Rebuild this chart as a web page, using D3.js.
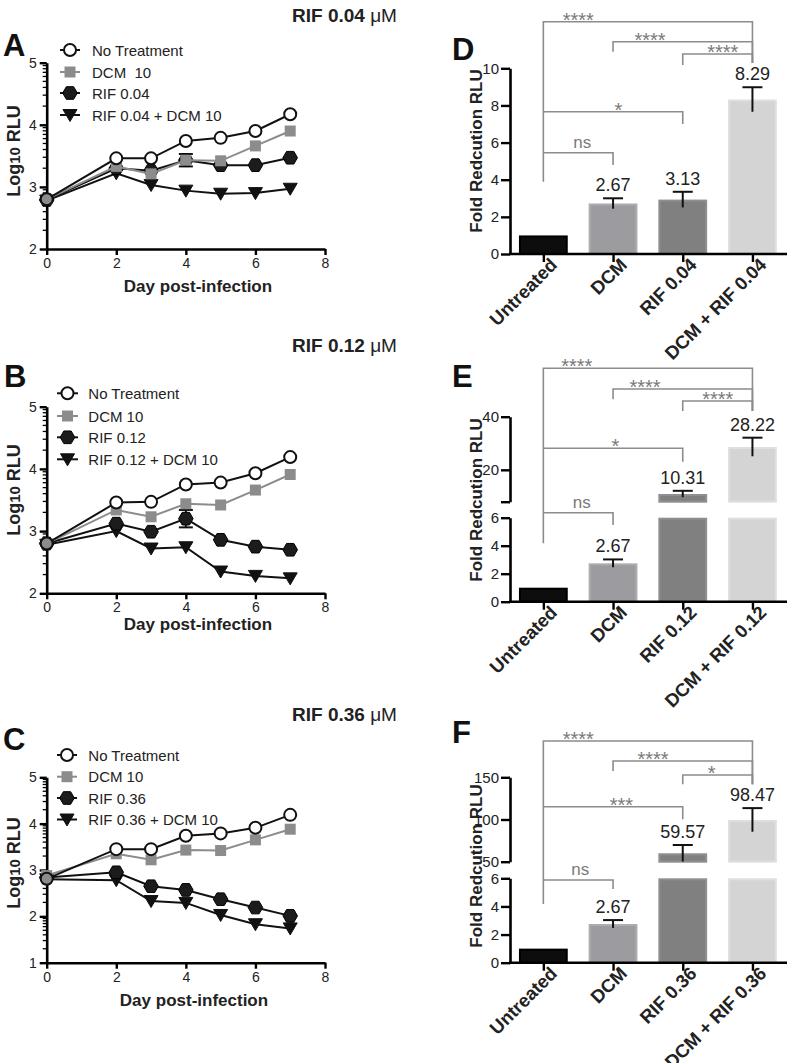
<!DOCTYPE html>
<html><head><meta charset="utf-8">
<script src="https://cdn.jsdelivr.net/npm/d3@7"></script>
<style>
body{margin:0;background:#fff}
svg{display:block}
text{font-family: Arial, "Liberation Sans", Helvetica, sans-serif;}
</style></head><body>
<svg id="chart" width="787" height="1063"></svg>
<script>
// ---------------- DATA ----------------
const days = [0, 2, 3, 4, 5, 6, 7];
const dayTicks = [0, 2, 4, 6, 8];

const titleA = "RIF 0.04 ";
const legendA = ["No Treatment", "DCM  10", "RIF 0.04", "RIF 0.04 + DCM 10"];
const noTreatmentA = [2.80, 3.46, 3.46, 3.74, 3.79, 3.90, 4.17];
const dcmA = [2.80, 3.33, 3.21, 3.43, 3.42, 3.66, 3.90];
const rifA = [2.79, 3.30, 3.26, 3.43, 3.35, 3.35, 3.47];
const rifErrA = [0, 0, 0, 0.10, 0, 0, 0];
const comboA = [2.78, 3.22, 3.03, 2.94, 2.89, 2.90, 2.97];
const yTicksA = [2, 3, 4, 5];

const titleB = "RIF 0.12 ";
const legendB = ["No Treatment", "DCM 10", "RIF 0.12", "RIF 0.12 + DCM 10"];
const noTreatmentB = [2.80, 3.46, 3.47, 3.75, 3.78, 3.93, 4.19];
const dcmB = [2.80, 3.34, 3.23, 3.44, 3.42, 3.66, 3.91];
const rifB = [2.80, 3.12, 2.99, 3.20, 2.86, 2.75, 2.70];
const rifErrB = [0, 0, 0, 0.14, 0, 0, 0];
const comboB = [2.78, 3.00, 2.72, 2.74, 2.35, 2.28, 2.24];
const yTicksB = [2, 3, 4, 5];

const titleC = "RIF 0.36 ";
const legendC = ["No Treatment", "DCM 10", "RIF 0.36", "RIF 0.36 + DCM 10"];
const noTreatmentC = [2.81, 3.45, 3.45, 3.74, 3.79, 3.91, 4.19];
const dcmC = [2.88, 3.35, 3.22, 3.43, 3.42, 3.65, 3.88];
const rifC = [2.84, 2.95, 2.65, 2.57, 2.37, 2.19, 2.01];
const rifErrC = [0, 0, 0, 0, 0, 0, 0];
const comboC = [2.80, 2.78, 2.33, 2.29, 2.03, 1.83, 1.74];
const yTicksC = [1, 2, 3, 4, 5];

const comparisons = [[0, 3], [1, 3], [2, 3], [0, 2], [0, 1]];

const barCatsD = ["Untreated", "DCM", "RIF 0.04", "DCM + RIF 0.04"];
const barMeansD = [1.0, 2.72, 2.93, 8.32];
const barErrD = [0, 0.28, 0.42, 0.66];
const barLabelsD = ["", "2.67", "3.13", "8.29"];
const sigD = ["****", "****", "****", "*", "ns"];
const yTicksD = [0, 2, 4, 6, 8, 10];

const barCatsE = ["Untreated", "DCM", "RIF 0.12", "DCM + RIF 0.12"];
const barMeansE = [1.0, 2.74, 10.9, 28.6];
const barErrE = [0, 0.28, 1.2, 3.5];
const barLabelsE = ["", "2.67", "10.31", "28.22"];
const sigE = ["****", "****", "****", "*", "ns"];
const yTicksELow = [0, 2, 4, 6];
const yTicksEHigh = [8, 20, 40];
const yTickLabelsEHigh = ["", "20", "40"];

const barCatsF = ["Untreated", "DCM", "RIF 0.36", "DCM + RIF 0.36"];
const barMeansF = [1.0, 2.75, 60.0, 99.5];
const barErrF = [0, 0.28, 9.8, 14.0];
const barLabelsF = ["", "2.67", "59.57", "98.47"];
const sigF = ["****", "****", "*", "***", "ns"];
const yTicksFLow = [0, 2, 4, 6];
const yTicksFHigh = [50, 100, 150];

// ---------------- STYLE ----------------
const svg = d3.select('#chart');
const GREY_LINE = '#8c8c8c';
const barFill = ['#0d0d0d', '#9b9ba0', '#808080', '#d4d4d4'];
const barStroke = ['#000', '#adadb1', '#8f8f8f', '#dfdfdf'];
const SIG_COLOR = '#8c8c8c';
const fmtInt = d3.format('d');

const sym = {
  circle: d3.symbol(d3.symbolCircle, Math.PI * 36)(),
  square: d3.symbol(d3.symbolSquare, 121)(),
  hexagon: d3.line()(d3.range(6).map(i => [7.3 * Math.cos(i * Math.PI / 3), 7.3 * Math.sin(i * Math.PI / 3)])) + 'Z',
  tri: 'M-7,-5.5L7,-5.5L0,6.5Z'
};

function styleAxis(sel, fs) {
  sel.select('.domain').attr('stroke', '#000').attr('stroke-width', 2.6);
  sel.selectAll('.tick line').attr('stroke', '#000').attr('stroke-width', 2.4);
  sel.selectAll('.tick text').attr('fill', '#222').style('font-size', fs + 'px')
    .style('font-family', 'Arial, "Liberation Sans", sans-serif');
}

function title(txt, x, y) {
  const t = svg.append('text').attr('x', x).attr('y', y).attr('font-size', 19).attr('fill', '#222');
  t.append('tspan').attr('font-weight', 'bold').style('white-space', 'pre').text(txt);
  t.append('tspan').text('\u03BCM');
}
function letter(txt, x, y) {
  svg.append('text').attr('x', x).attr('y', y).attr('font-size', 31).attr('font-weight', 'bold').attr('fill', '#111').text(txt);
}

// ---------------- LINE PANELS ----------------
function linePanel(cfg) {
  const g = svg.append('g');
  const X0 = 46.7;
  const x = d3.scaleLinear().domain([0, 8]).range([X0, 325]);
  const y = d3.scaleLinear().domain(cfg.yDomain).range(cfg.yRange);
  const yBase = cfg.yRange[0];

  const xa = g.append('g').attr('transform', `translate(0,${yBase})`)
    .call(d3.axisBottom(x).tickValues(dayTicks).tickSize(6).tickSizeOuter(0).tickPadding(3).tickFormat(fmtInt));
  styleAxis(xa, 14);
  const ya = g.append('g').attr('transform', `translate(${X0},0)`)
    .call(d3.axisLeft(y).tickValues(cfg.yTicks).tickSize(7).tickSizeOuter(0).tickPadding(3).tickFormat(fmtInt));
  styleAxis(ya, 14);
  const minor = [];
  for (let k = cfg.yDomain[0]; k < cfg.yDomain[1]; k++)
    for (let m = 2; m <= 9; m++) minor.push(k + Math.log10(m));
  g.append('g').selectAll('line').data(minor).join('line')
    .attr('x1', X0 - 4).attr('x2', X0).attr('y1', d => y(d)).attr('y2', d => y(d))
    .attr('stroke', '#000').attr('stroke-width', 1.3);

  g.append('text').attr('x', cfg.xTitleX).attr('y', cfg.xTitleY).attr('text-anchor', 'middle')
    .attr('font-size', 17).attr('font-weight', 'bold').attr('fill', '#222').text('Day post-infection');
  const yt = g.append('text').attr('transform', `translate(20,${cfg.yTitleY}) rotate(-90)`)
    .attr('text-anchor', 'middle').attr('font-size', 18).attr('font-weight', 'bold').attr('fill', '#222');
  yt.append('tspan').text('Log');
  yt.append('tspan').attr('font-size', 15).text('10');
  yt.append('tspan').style('white-space', 'pre').text(' RLU');

  const series = [
    { vals: cfg.combo, color: '#111', marker: 'tri', fill: () => '#111', stroke: '#111' },
    { vals: cfg.rif, color: '#111', marker: 'hexagon', fill: () => '#1c1c1c', stroke: '#000', err: cfg.rifErr },
    { vals: cfg.dcm, color: GREY_LINE, marker: 'square', fill: () => GREY_LINE, stroke: 'none' },
    { vals: cfg.nt, color: '#111', marker: 'circle', fill: (d, i) => i === 0 ? GREY_LINE : '#fff', stroke: '#111' }
  ];
  const line = d3.line().x((d, i) => x(days[i])).y(d => y(d));
  series.forEach(s => {
    g.append('path').attr('d', line(s.vals)).attr('fill', 'none').attr('stroke', s.color).attr('stroke-width', 2);
    if (s.err) {
      const eg = g.append('g').selectAll('g').data(s.vals.map((v, i) => ({ v, e: s.err[i], i })).filter(d => d.e > 0)).join('g');
      eg.append('line').attr('x1', d => x(days[d.i])).attr('x2', d => x(days[d.i]))
        .attr('y1', d => y(d.v - d.e)).attr('y2', d => y(d.v + d.e)).attr('stroke', '#111').attr('stroke-width', 2);
      eg.selectAll('line.cap').data(d => [d.v - d.e, d.v + d.e].map(vv => ({ vv, i: d.i }))).join('line').attr('class', 'cap')
        .attr('x1', d => x(days[d.i]) - 7).attr('x2', d => x(days[d.i]) + 7)
        .attr('y1', d => y(d.vv)).attr('y2', d => y(d.vv)).attr('stroke', '#111').attr('stroke-width', 2);
    }
    g.append('g').selectAll('path').data(s.vals).join('path')
      .attr('d', sym[s.marker])
      .attr('transform', (d, i) => `translate(${x(days[i])},${y(d)})`)
      .attr('fill', (d, i) => s.fill(d, i))
      .attr('stroke', s.stroke).attr('stroke-width', s.marker === 'circle' ? 2 : 1);
  });

  const legSpec = [
    { marker: 'circle', color: '#111', fill: '#fff', stroke: '#111' },
    { marker: 'square', color: GREY_LINE, fill: GREY_LINE, stroke: 'none' },
    { marker: 'hexagon', color: '#111', fill: '#1c1c1c', stroke: '#000' },
    { marker: 'tri', color: '#111', fill: '#111', stroke: '#111' }
  ];
  const lg = g.append('g').selectAll('g').data(cfg.legend).join('g')
    .attr('transform', (d, i) => `translate(0,${cfg.legendY[i]})`);
  lg.append('line').attr('x1', cfg.legendX[0]).attr('x2', cfg.legendX[1]).attr('y1', 0).attr('y2', 0)
    .attr('stroke', (d, i) => legSpec[i].color).attr('stroke-width', 2);
  lg.append('path').attr('d', (d, i) => sym[legSpec[i].marker])
    .attr('transform', `translate(${(cfg.legendX[0] + cfg.legendX[1]) / 2},0)`)
    .attr('fill', (d, i) => legSpec[i].fill).attr('stroke', (d, i) => legSpec[i].stroke)
    .attr('stroke-width', (d, i) => i === 0 ? 2 : 1);
  lg.append('text').attr('x', cfg.legendX[2]).attr('y', 5.5).attr('font-size', 15).attr('fill', '#222')
    .style('white-space', 'pre').text(d => d);
}

// ---------------- BAR PANELS ----------------
function barPanel(cfg) {
  const g = svg.append('g');
  const AX = 510;
  const x = d3.scalePoint().domain(cfg.cats).range([508.5, 787.3]).padding(0.5);
  const bw = 48.8;
  const segs = cfg.segments.map(s => Object.assign({}, s, { scale: d3.scaleLinear().domain(s.domain).range(s.range) }));
  const yOf = v => {
    for (const s of segs) if (v >= s.domain[0] && v <= s.domain[1]) return s.scale(v);
    for (let k = segs.length - 1; k >= 0; k--) if (v > segs[k].domain[1]) return segs[k].scale(segs[k].domain[1]);
    return segs[0].scale(segs[0].domain[0]);
  };
  const yBase = segs[0].scale(0);

  const pieces = [];
  cfg.cats.forEach((c, i) => {
    segs.forEach(s => {
      const v = cfg.means[i];
      if (v <= s.domain[0]) return;
      pieces.push({ c, i, top: s.scale(Math.min(v, s.domain[1])), bot: s.scale(s.domain[0]) });
    });
  });
  g.append('g').selectAll('rect').data(pieces).join('rect')
    .attr('x', d => x(d.c) - bw / 2 + 1).attr('width', bw - 2)
    .attr('y', d => d.top + 1).attr('height', d => Math.max(0, d.bot - d.top - 1))
    .attr('fill', d => barFill[d.i]).attr('stroke', d => barStroke[d.i]).attr('stroke-width', 2);

  const errs = cfg.cats.map((c, i) => ({ c, v: cfg.means[i], e: cfg.err[i], lab: cfg.labels[i] })).filter(d => d.e > 0);
  const eg = g.append('g').selectAll('g').data(errs).join('g');
  eg.append('line').attr('x1', d => x(d.c)).attr('x2', d => x(d.c))
    .attr('y1', d => yOf(d.v - d.e)).attr('y2', d => yOf(d.v + d.e)).attr('stroke', '#111').attr('stroke-width', 2);
  eg.append('line').attr('x1', d => x(d.c) - 10).attr('x2', d => x(d.c) + 10)
    .attr('y1', d => yOf(d.v + d.e)).attr('y2', d => yOf(d.v + d.e)).attr('stroke', '#111').attr('stroke-width', 2);
  eg.append('text').attr('x', d => x(d.c)).attr('y', d => yOf(d.v + d.e) - 7).attr('text-anchor', 'middle')
    .attr('font-size', 18).attr('fill', '#222').text(d => d.lab);

  segs.forEach(s => {
    const ax = g.append('g').attr('transform', `translate(${AX},0)`)
      .call(d3.axisLeft(s.scale).tickValues(s.ticks).tickSize(9).tickSizeOuter(0).tickPadding(2)
        .tickFormat((d, i) => s.tickLabels ? s.tickLabels[i] : fmtInt(d)));
    styleAxis(ax, 15);
  });
  const xa = g.append('g').attr('transform', `translate(0,${yBase})`)
    .call(d3.axisBottom(x).tickSize(8).tickSizeOuter(0).tickFormat(''));
  styleAxis(xa, 15);
  xa.select('.domain').attr('d', `M${AX - 1},0H787`);
  g.append('g').selectAll('text').data(cfg.cats).join('text')
    .attr('transform', d => `translate(${x(d) + 15},${yBase + 12}) rotate(-45)`)
    .attr('text-anchor', 'end').attr('font-size', 18.5).attr('font-weight', 'bold').attr('fill', '#222').text(d => d);

  g.append('text').attr('transform', `translate(482,${cfg.yTitleY}) rotate(-90)`).attr('text-anchor', 'middle')
    .attr('font-size', 17).attr('font-weight', 'bold').attr('fill', '#222').text('Fold Redcution RLU');

  const br = comparisons.map((p, k) => Object.assign({ a: cfg.cats[p[0]], b: cfg.cats[p[1]], sig: cfg.sig[k] }, cfg.brackets[k]));
  const bg = g.append('g').selectAll('g').data(br).join('g');
  bg.append('path').attr('d', d => `M${x(d.a)},${d.l}V${d.y}H${x(d.b)}V${d.r}`)
    .attr('fill', 'none').attr('stroke', SIG_COLOR).attr('stroke-width', 1.6);
  bg.append('text').attr('x', d => x(d.a) + d.dx).attr('y', d => d.sig === 'ns' ? d.y - 5 : d.y + 5)
    .attr('text-anchor', 'middle').attr('font-size', d => d.sig === 'ns' ? 17 : 20)
    .attr('fill', '#7a7a7a').text(d => d.sig);
}

// ---------------- DRAW ----------------
title(titleA, 292, 22); title(titleB, 292, 352); title(titleC, 292, 721);
letter('A', 3, 56); letter('B', 4, 387); letter('C', 3, 750);
letter('D', 452, 60); letter('E', 452, 387); letter('F', 452, 743);

linePanel({ yDomain: [2, 5], yRange: [249, 62.7], yTicks: yTicksA, nt: noTreatmentA, dcm: dcmA, rif: rifA, rifErr: rifErrA, combo: comboA,
  legend: legendA, legendY: [50, 72, 93, 115], legendX: [60, 80, 92], xTitleX: 198, xTitleY: 291.5, yTitleY: 151 });
linePanel({ yDomain: [2, 5], yRange: [593.3, 406.7], yTicks: yTicksB, nt: noTreatmentB, dcm: dcmB, rif: rifB, rifErr: rifErrB, combo: comboB,
  legend: legendB, legendY: [393.3, 416, 437.3, 459.3], legendX: [57, 78, 88.3], xTitleX: 198, xTitleY: 630, yTitleY: 490 });
linePanel({ yDomain: [1, 5], yRange: [962.7, 777.3], yTicks: yTicksC, nt: noTreatmentC, dcm: dcmC, rif: rifC, rifErr: rifErrC, combo: comboC,
  legend: legendC, legendY: [755, 776.7, 798, 819.5], legendX: [57, 77, 88.3], xTitleX: 194, xTitleY: 1006, yTitleY: 863 });

barPanel({ cats: barCatsD, means: barMeansD, err: barErrD, labels: barLabelsD, sig: sigD, yTitleY: 151,
  segments: [{ domain: [0, 10], range: [254, 68.3], ticks: yTicksD }],
  brackets: [{ y: 21.7, l: 181.7, r: 63, dx: 35 }, { y: 41.7, l: 51.7, r: 63, dx: 37 }, { y: 54, l: 65, r: 63, dx: 40 },
             { y: 111.7, l: 111.7, r: 124, dx: 75 }, { y: 152.7, l: 152.7, r: 165, dx: 39 }] });
barPanel({ cats: barCatsE, means: barMeansE, err: barErrE, labels: barLabelsE, sig: sigE, yTitleY: 500,
  segments: [{ domain: [0, 6], range: [601.7, 517.7], ticks: yTicksELow },
             { domain: [8, 40], range: [501.7, 416.7], ticks: yTicksEHigh, tickLabels: yTickLabelsEHigh }],
  brackets: [{ y: 368.3, l: 543.3, r: 411, dx: 33.4 }, { y: 389, l: 399.3, r: 411, dx: 32 }, { y: 401, l: 411, r: 411, dx: 35 },
             { y: 448.3, l: 448.3, r: 461.7, dx: 72 }, { y: 512.7, l: 512.7, r: 525, dx: 38.4 }] });
barPanel({ cats: barCatsF, means: barMeansF, err: barErrF, labels: barLabelsF, sig: sigF, yTitleY: 866,
  segments: [{ domain: [0, 6], range: [962.7, 878.3], ticks: yTicksFLow },
             { domain: [50, 150], range: [861.7, 777.3], ticks: yTicksFHigh }],
  brackets: [{ y: 741, l: 904, r: 784.3, dx: 35 }, { y: 761, l: 771, r: 784.3, dx: 40 }, { y: 775, l: 784.3, r: 784.3, dx: 29 },
             { y: 806.7, l: 806.7, r: 819.3, dx: 78 }, { y: 880, l: 880, r: 889, dx: 37 }] });
</script>
</body></html>
